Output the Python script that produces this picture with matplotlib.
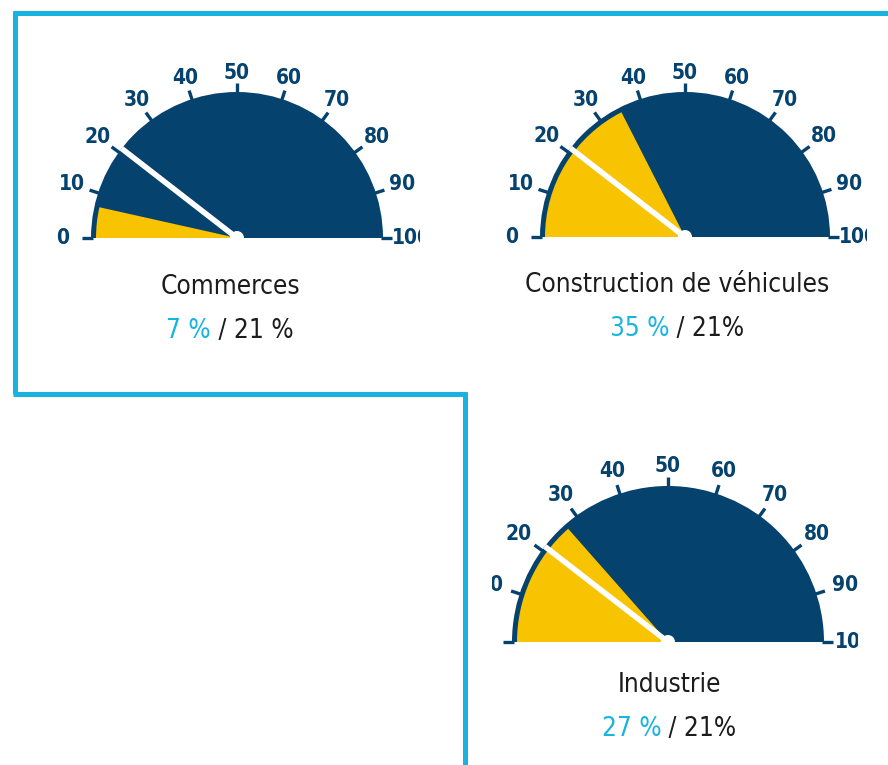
import numpy as np
import matplotlib
matplotlib.use("Agg")
import matplotlib.pyplot as plt
from matplotlib import font_manager as fm
from matplotlib.patches import Wedge, Circle
from matplotlib.transforms import Bbox, TransformedBbox

# 섹터별 값 (%), 기준값은 21 %
sectors      = ["Commerces", "Construction de véhicules", "Industrie"]
values       = [7, 35, 27]
reference    = [21, 21, 21]
value_labels = ["7 %", "35 %", "27 %"]
ref_labels   = [" / 21 %", " / 21%", " / 21%"]
scale_ticks  = [0, 10, 20, 30, 40, 50, 60, 70, 80, 90, 100]

# 게이지 배치 (픽셀 좌표, y 아래로 증가)
centers  = [(237, 238), (685, 237), (668, 642)]
radii    = [146, 145, 156]
title_xy = [(230, 294), (677, 292), (669, 692)]
clips    = [(20, 20, 420, 388), (470, 20, 867, 388), (492, 400, 858, 765)]

NAVY   = "#05426e"
YELLOW = "#f8c300"
CYAN   = "#17b4e0"
DARK   = "#1c1c1c"
RIM    = 5


def _weight(f):
    w = f.weight
    if isinstance(w, str):
        w = fm.weight_dict.get(w, 400)
    return w


def condensed_font(target_weight):
    # 설치된 폰트 중 condensed / narrow 계열을 찾는다
    cands = []
    for f in fm.fontManager.ttflist:
        tag = (f.name + " " + f.fname).lower()
        narrow = ("condensed" in tag or "narrow" in tag
                  or f.stretch in ("condensed", "semi-condensed", "extra-condensed"))
        if narrow and f.style == "normal" and "semi" not in tag and "extra" not in tag:
            cands.append(f)
    if not cands:
        return fm.FontProperties(family="DejaVu Sans",
                                 weight="bold" if target_weight > 500 else "normal")
    best = min(cands, key=lambda f: abs(_weight(f) - target_weight))
    return fm.FontProperties(fname=best.fname)


font_reg  = condensed_font(400)
font_bold = condensed_font(700)

W, H = 888, 765
fig = plt.figure(figsize=(W / 100, H / 100), dpi=100)
ax = fig.add_axes([0, 0, 1, 1])
ax.set_xlim(0, W)
ax.set_ylim(H, 0)
ax.axis("off")
renderer = fig.canvas.get_renderer()

# 테두리 (청록 선)
ax.plot([13, W], [13, 13], color=CYAN, lw=3.6, solid_capstyle="butt")
ax.plot([15, 15], [11, 394], color=CYAN, lw=3.6, solid_capstyle="butt")
ax.plot([13, 467], [393.5, 393.5], color=CYAN, lw=3.6, solid_capstyle="butt")
ax.plot([465, 465], [392, H], color=CYAN, lw=3.6, solid_capstyle="butt")

# 제목 글자 크기: 가장 긴 제목이 약 305px 폭이 되도록, 최대 27pt
probe = ax.text(0, 0, sectors[1], fontproperties=font_reg, fontsize=27)
title_size = min(27.0, 27.0 * 305.0 / probe.get_window_extent(renderer).width)
probe.remove()


def ang(v):
    # 값 → 화면상 각도 (deg), 0 = 왼쪽, 100 = 오른쪽
    return 180.0 - 1.8 * v


for i in range(len(sectors)):
    cx, cy = centers[i]
    R = radii[i]
    x0, y0, x1, y1 = clips[i]
    # 잘라내기 영역은 figure 좌표로 (아래→위 순서 유지)
    box = TransformedBbox(Bbox.from_extents(x0 / W, 1 - y1 / H, x1 / W, 1 - y0 / H),
                          fig.transFigure)
    arts = []

    # y축이 뒤집혀 있으므로 data 각도는 화면 각도의 부호 반대
    arts.append(ax.add_patch(Wedge((cx, cy), R, 180, 360, color=NAVY, lw=0)))
    arts.append(ax.add_patch(Wedge((cx, cy), R - RIM, 180, 180 + 1.8 * values[i],
                                   color=YELLOW, lw=0)))

    for t in scale_ticks:
        a = np.radians(ang(t))
        c, s = np.cos(a), np.sin(a)
        ln, = ax.plot([cx + (R - 2) * c, cx + (R + 9) * c],
                      [cy - (R - 2) * s, cy - (R + 9) * s],
                      color=NAVY, lw=2.4, solid_capstyle="butt")
        arts.append(ln)
        r_lab = R * (1.13 + 0.065 * abs(c))
        arts.append(ax.text(cx + r_lab * c, cy - r_lab * s, str(t),
                            ha="center", va="center", fontproperties=font_bold,
                            fontsize=15, color=NAVY))

    # 기준값 바늘
    a = np.radians(ang(reference[i]))
    ln, = ax.plot([cx, cx + R * np.cos(a)], [cy, cy - R * np.sin(a)],
                  color="white", lw=4, solid_capstyle="butt")
    arts.append(ln)
    arts.append(ax.add_patch(Circle((cx, cy), 7, color="white", lw=0)))

    for art in arts:
        art.set_clip_on(True)
        art.set_clip_path(None)
        art.set_clip_box(box)

    tx, ty = title_xy[i]
    ax.text(tx, ty, sectors[i], ha="center", va="baseline",
            fontproperties=font_reg, fontsize=title_size, color=DARK)

    # 두 색 값 라벨: 폭을 재서 가운데 정렬
    t1 = ax.text(0, ty + 44, value_labels[i], ha="left", va="baseline",
                 fontproperties=font_reg, fontsize=title_size, color=CYAN)
    t2 = ax.text(0, ty + 44, ref_labels[i], ha="left", va="baseline",
                 fontproperties=font_reg, fontsize=title_size, color=DARK)
    w1 = t1.get_window_extent(renderer).width
    w2 = t2.get_window_extent(renderer).width
    left = tx - (w1 + w2) / 2
    t1.set_x(left)
    t2.set_x(left + w1)

fig.savefig("out.png", dpi=100)
